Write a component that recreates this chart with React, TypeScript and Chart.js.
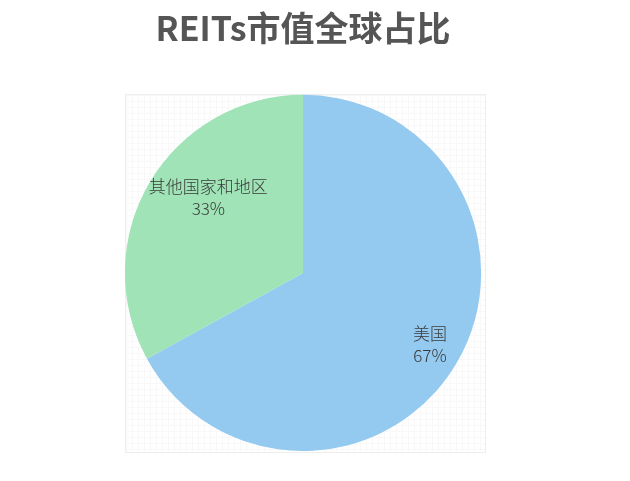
import { useEffect, useRef } from "react";
import { Chart, ArcElement, PieController, Title, Plugin } from "chart.js";

Chart.register(PieController, ArcElement, Title);

const regions = ["美国", "其他国家和地区"];
const shares = [67, 33];
const sliceColors = ["#94c9f0", "#9fe3b6"];

// label placement inside each slice: fraction of radius, angle nudge (deg)
const labelSpots = [
  { r: 0.82, nudge: -1 },
  { r: 0.68, nudge: 8 },
];

const sliceLabels: Plugin<"pie"> = {
  id: "sliceLabels",
  afterDatasetsDraw(chart) {
    const { ctx } = chart;
    const meta = chart.getDatasetMeta(0);
    const total = shares.reduce((a, b) => a + b, 0);
    ctx.save();
    ctx.font = '300 17px "Noto Sans CJK SC", "Microsoft YaHei", sans-serif';
    ctx.fillStyle = "#3a3a3a";
    ctx.textAlign = "center";
    ctx.textBaseline = "middle";
    meta.data.forEach((el: any, i) => {
      const { x, y, startAngle, endAngle, outerRadius } = el.getProps(
        ["x", "y", "startAngle", "endAngle", "outerRadius"],
        true
      );
      const mid = (startAngle + endAngle) / 2 + (labelSpots[i].nudge * Math.PI) / 180;
      const rr = outerRadius * labelSpots[i].r;
      const cx = x + Math.cos(mid) * rr;
      const cy = y + Math.sin(mid) * rr;
      const pct = Math.round((shares[i] / total) * 100) + "%";
      ctx.fillText(regions[i], cx, cy - 11);
      ctx.fillText(pct, cx, cy + 11);
    });
    ctx.restore();
  },
};

const App: React.FC = () => {
  const canvasRef = useRef<HTMLCanvasElement>(null);
  const chartRef = useRef<Chart<"pie", number[], string> | null>(null);

  useEffect(() => {
    document.body.style.margin = "0";
    if (!canvasRef.current) return;
    const ctx = canvasRef.current.getContext("2d");
    if (!ctx) return;

    chartRef.current = new Chart(ctx, {
      type: "pie",
      data: {
        labels: regions,
        datasets: [
          {
            data: shares,
            backgroundColor: sliceColors,
            borderWidth: 0,
          },
        ],
      },
      options: {
        animation: false,
        responsive: true,
        maintainAspectRatio: false,
        layout: { padding: { left: 0, right: 24, bottom: 30 } },
        plugins: {
          legend: { display: false },
          tooltip: { enabled: false },
          title: {
            display: true,
            text: "REITs市值全球占比",
            color: "#555555",
            font: {
              family: '"Noto Sans CJK SC", "Microsoft YaHei", sans-serif',
              size: 34,
              weight: "bold",
            },
            padding: { top: 8, bottom: 46 },
          },
        },
      },
      plugins: [sliceLabels],
    });

    return () => {
      if (chartRef.current) {
        chartRef.current.destroy();
        chartRef.current = null;
      }
    };
  }, []);

  return (
    <div style={{ position: "relative", width: 630, height: 481, background: "#fff" }}>
      <div
        style={{
          position: "absolute",
          left: 125,
          top: 94,
          width: 359,
          height: 357,
          border: "1px solid #eeeeee",
          backgroundImage:
            "linear-gradient(#f8f8f8 1px, transparent 1px), linear-gradient(90deg, #f8f8f8 1px, transparent 1px)",
          backgroundSize: "6px 6px",
        }}
      />
      <div style={{ position: "absolute", inset: 0 }}>
        <canvas ref={canvasRef}></canvas>
      </div>
    </div>
  );
};

export default App;
